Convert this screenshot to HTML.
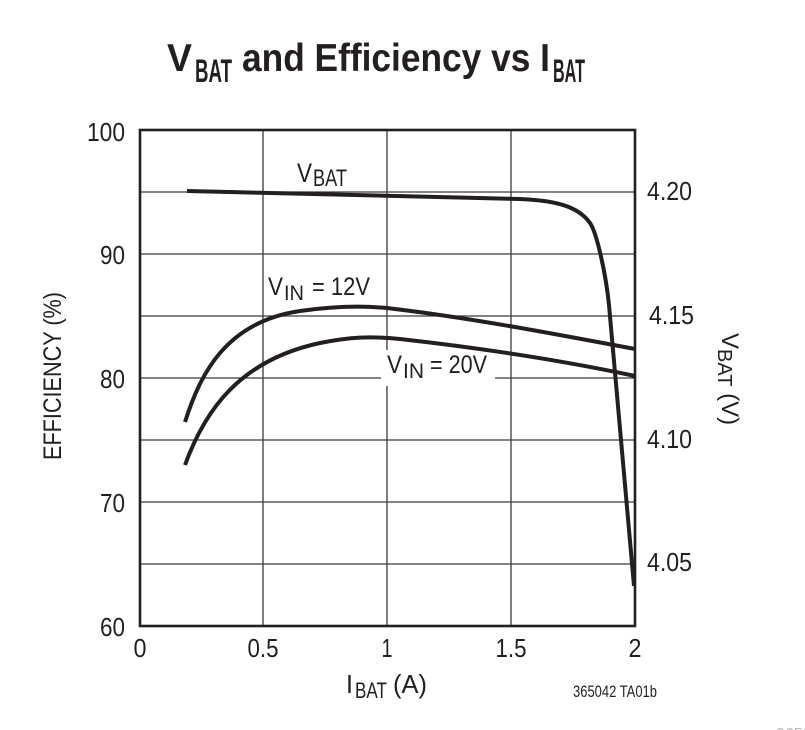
<!DOCTYPE html>
<html>
<head>
<meta charset="utf-8">
<style>
  html, body { margin: 0; padding: 0; background: #ffffff; }
  svg { display: block; }
  text { font-family: "Liberation Sans", "DejaVu Sans", sans-serif; fill: #231f20; }
</style>
</head>
<body>
<svg width="805" height="730" viewBox="0 0 805 730" xmlns="http://www.w3.org/2000/svg">
  <rect x="0" y="0" width="805" height="730" fill="#ffffff"/>

  <!-- Title -->
  <g font-weight="bold">
    <text x="167" y="71" font-size="39" textLength="25" lengthAdjust="spacingAndGlyphs">V</text>
    <text x="195" y="82" font-size="32" textLength="37" lengthAdjust="spacingAndGlyphs">BAT</text>
    <text x="242" y="71" font-size="39" textLength="308" lengthAdjust="spacingAndGlyphs">and Efficiency vs I</text>
    <text x="553" y="82" font-size="32" textLength="32" lengthAdjust="spacingAndGlyphs">BAT</text>
  </g>

  <!-- Grid lines -->
  <g stroke="#3a3a3a" stroke-width="1.3" fill="none">
    <line x1="140" y1="192" x2="635" y2="192"/>
    <line x1="140" y1="254" x2="635" y2="254"/>
    <line x1="140" y1="316" x2="635" y2="316"/>
    <line x1="140" y1="378" x2="635" y2="378"/>
    <line x1="140" y1="440" x2="635" y2="440"/>
    <line x1="140" y1="502" x2="635" y2="502"/>
    <line x1="140" y1="564" x2="635" y2="564"/>
    <line x1="263" y1="130" x2="263" y2="626"/>
    <line x1="387" y1="130" x2="387" y2="626"/>
    <line x1="511" y1="130" x2="511" y2="626"/>
  </g>

  <!-- label knock-out box for VIN = 20V -->
  <rect x="381" y="350" width="114" height="36" fill="#ffffff"/>

  <!-- Frame -->
  <rect x="140" y="130" width="495" height="496" fill="none" stroke="#231f20" stroke-width="2.6"/>

  <!-- Curves -->
  <g stroke="#231f20" stroke-width="4" fill="none" stroke-linejoin="round">
    <path d="M187,191 L520,199 C555,200.5 578,206 590,223 C597,233 606,275 609,305 L634,586"/>
    <path d="M185,422 C200,375 225,322 300,311 C335,306 365,305 395,309 C470,318 550,333 635,349"/>
    <path d="M185,465 C205,410 240,360 320,343 C350,337 370,336 400,339 C480,348 560,360 635,376"/>
  </g>

  <!-- Curve labels -->
  <text x="297" y="182" font-size="27" textLength="15" lengthAdjust="spacingAndGlyphs">V</text>
  <text x="313" y="186" font-size="24" textLength="34" lengthAdjust="spacingAndGlyphs">BAT</text>

  <text x="268" y="295" font-size="25" textLength="15" lengthAdjust="spacingAndGlyphs">V</text>
  <text x="284" y="300" font-size="21" textLength="20" lengthAdjust="spacingAndGlyphs">IN</text>
  <text x="312" y="295" font-size="25" textLength="58" lengthAdjust="spacingAndGlyphs">= 12V</text>

  <text x="387" y="373" font-size="25" textLength="15" lengthAdjust="spacingAndGlyphs">V</text>
  <text x="403" y="378" font-size="21" textLength="21" lengthAdjust="spacingAndGlyphs">IN</text>
  <text x="430" y="373" font-size="25" textLength="57" lengthAdjust="spacingAndGlyphs">= 20V</text>

  <!-- Left tick labels -->
  <g font-size="26" text-anchor="end">
    <text x="125" y="141" textLength="38" lengthAdjust="spacingAndGlyphs">100</text>
    <text x="125" y="264" textLength="25" lengthAdjust="spacingAndGlyphs">90</text>
    <text x="125" y="388" textLength="25" lengthAdjust="spacingAndGlyphs">80</text>
    <text x="125" y="512" textLength="25" lengthAdjust="spacingAndGlyphs">70</text>
    <text x="125" y="636" textLength="25" lengthAdjust="spacingAndGlyphs">60</text>
  </g>

  <!-- Right tick labels -->
  <g font-size="26">
    <text x="647" y="200" textLength="45" lengthAdjust="spacingAndGlyphs">4.20</text>
    <text x="649" y="324" textLength="45" lengthAdjust="spacingAndGlyphs">4.15</text>
    <text x="647" y="448" textLength="45" lengthAdjust="spacingAndGlyphs">4.10</text>
    <text x="647" y="571" textLength="45" lengthAdjust="spacingAndGlyphs">4.05</text>
  </g>

  <!-- Bottom tick labels -->
  <g font-size="26" text-anchor="middle">
    <text x="140" y="657" textLength="13" lengthAdjust="spacingAndGlyphs">0</text>
    <text x="263" y="657" textLength="31" lengthAdjust="spacingAndGlyphs">0.5</text>
    <text x="387" y="657" textLength="11" lengthAdjust="spacingAndGlyphs">1</text>
    <text x="511" y="657" textLength="31" lengthAdjust="spacingAndGlyphs">1.5</text>
    <text x="635" y="657" textLength="13" lengthAdjust="spacingAndGlyphs">2</text>
  </g>

  <!-- X axis title -->
  <text x="346" y="693" font-size="26" textLength="7" lengthAdjust="spacingAndGlyphs">I</text>
  <text x="355" y="698" font-size="22" textLength="32" lengthAdjust="spacingAndGlyphs">BAT</text>
  <text x="393" y="693" font-size="26" textLength="34" lengthAdjust="spacingAndGlyphs">(A)</text>

  <!-- Left Y axis title -->
  <text transform="translate(61,376) rotate(-90)" x="0" y="0" font-size="25" text-anchor="middle" textLength="168" lengthAdjust="spacingAndGlyphs">EFFICIENCY (%)</text>

  <!-- Right Y axis title -->
  <g transform="translate(722,333) rotate(90)">
    <text x="0" y="0" font-size="24"><tspan>V</tspan><tspan font-size="20" dy="4">BAT</tspan><tspan dy="-4"> (V)</tspan></text>
  </g>

  <!-- Footnote -->
  <text x="573" y="697" font-size="17" textLength="84" lengthAdjust="spacingAndGlyphs">365042 TA01b</text>
  <text x="776" y="739" font-size="16" style="fill:#bbbbbb">365042</text>
</svg>
</body>
</html>
